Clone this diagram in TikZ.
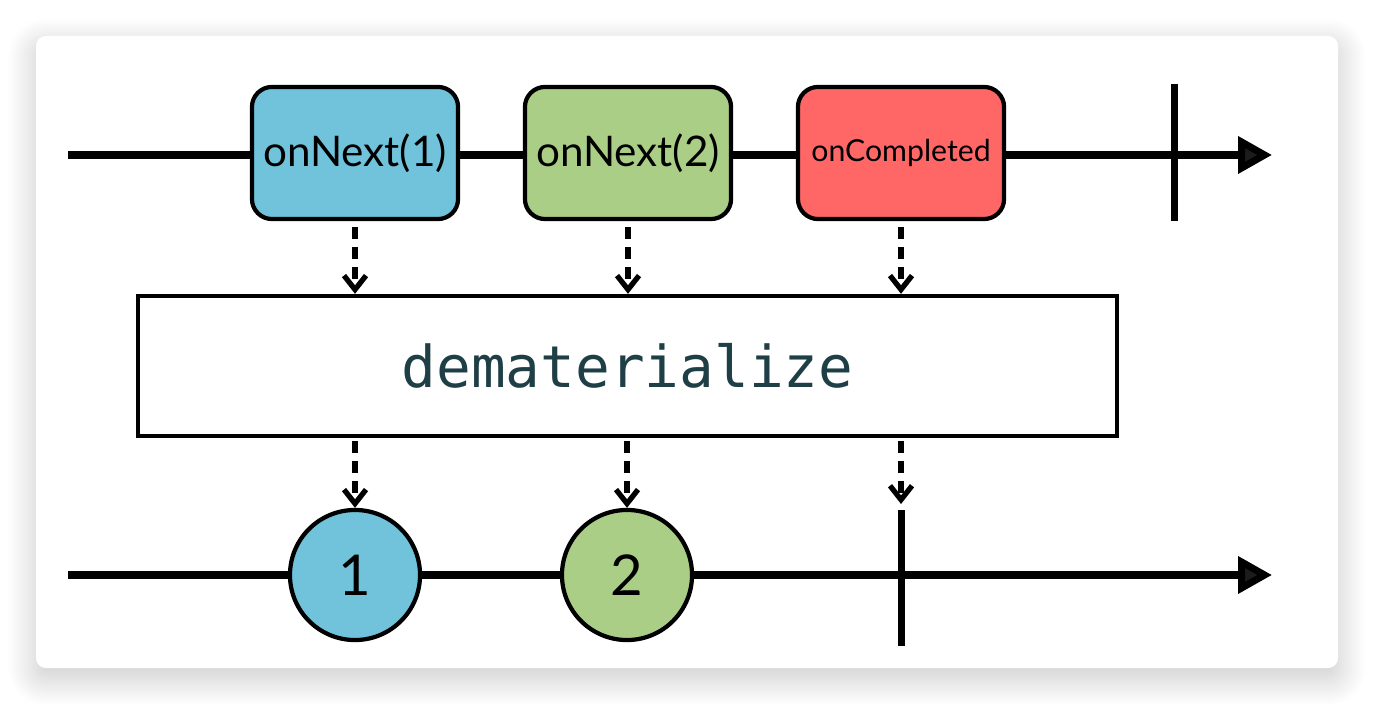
\documentclass[tikz,border=0pt]{standalone}
\usepackage{fontspec}
\setmainfont{Lato}
\setmonofont{DejaVu Sans Mono}
\usepackage{tikz}
\usetikzlibrary{arrows.meta}
\usetikzlibrary{shadows.blur}
\definecolor{nextone}{HTML}{70C3DA}
\definecolor{nexttwo}{HTML}{ABCE86}
\definecolor{donered}{HTML}{FF6767}
\definecolor{optext}{HTML}{1F3F46}
\tikzstyle{evbox} = [draw, line width=1.2pt, rounded corners=0.2cm, minimum width=2.06cm, minimum height=1.32cm, inner sep=0pt]
\tikzstyle{marble} = [circle, draw, line width=1.2pt, minimum size=1.3cm, inner sep=0pt, font=\fontsize{16}{16}\selectfont]
\tikzstyle{timeline} = [line width=2pt, -{Triangle[length=0.34cm, width=0.36cm]}]
\tikzstyle{endbar} = [line width=2pt]
\tikzstyle{flow} = [line width=1.5pt, dash pattern=on 0.12cm off 0.08cm, -{Straight Barb[length=0.14cm, width=0.22cm, line width=1.5pt]}]

\begin{document}
\begin{tikzpicture}[x=0.01cm, y=-0.01cm]
			\useasboundingbox (0,0) rectangle (1374,704);
			\fill[white, rounded corners=0.1cm, blur shadow={shadow xshift=0cm, shadow yshift=-0.1cm, shadow blur radius=0.28cm, shadow blur steps=24, shadow opacity=22}] (36,36) rectangle (1338,668);
			% source line
			\coordinate (s0) at (68,155);
			\coordinate (s1) at (1272,155);
			\draw[timeline] (s0) -- (s1);
			\node[evbox, fill=nextone, font=\fontsize{12}{12}\selectfont] (n1) at (355,153) {onNext(1)};
			\node[evbox, fill=nexttwo, font=\fontsize{12}{12}\selectfont] (n2) at (628,153) {onNext(2)};
			\node[evbox, fill=donered, font=\fontsize{8.6}{9}\selectfont] (nc) at (901,153) {onCompleted};
			\draw[endbar] (1174,84) -- (1174,221);
			% operator
			\node[draw, line width=1.2pt, fill=white, minimum width=9.79cm, minimum height=1.4cm, text=optext, font=\ttfamily\fontsize{16.4}{17}\selectfont] (op) at (627.5,366) {dematerialize};
			% result line
			\coordinate (r0) at (68,575);
			\coordinate (r1) at (1272,575);
			\draw[timeline] (r0) -- (r1);
			\node[marble, fill=nextone] (m1) at (355,575) {1};
			\node[marble, fill=nexttwo] (m2) at (627,575) {2};
			\coordinate (ct) at (901,510);
			\draw[endbar] (ct) -- (901,646);
			% flows
			\draw[flow] (n1.south) ++(0,6) -- (op.north -| n1.south);
			\draw[flow] (n2.south) ++(0,6) -- (op.north -| n2.south);
			\draw[flow] (nc.south) ++(0,6) -- (op.north -| nc.south);
			\draw[flow] (op.south -| m1.north) ++(0,3) -- (m1.north);
			\draw[flow] (op.south -| m2.north) ++(0,3) -- (m2.north);
			\draw[flow] (op.south -| ct) ++(0,3) -- ([yshift=0.06cm]ct);
		\end{tikzpicture}
\end{document}
